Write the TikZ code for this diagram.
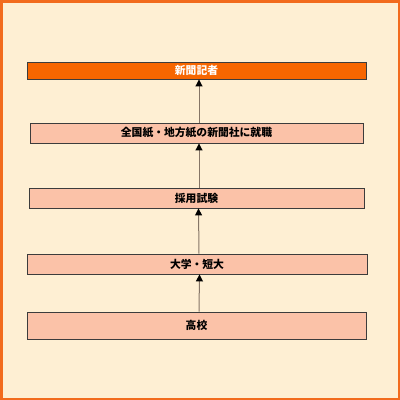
\documentclass[tikz,border=0pt]{standalone}
\usepackage{fontspec}
\newfontfamily\jpfont{Noto Sans CJK JP}
\usetikzlibrary{arrows.meta,positioning}
\definecolor{crBack}{HTML}{FEEFD3}
\definecolor{crFrame}{HTML}{F26B1D}
\definecolor{crGoal}{HTML}{F76600}
\definecolor{crStep}{HTML}{FBC2A8}
\definecolor{crEdge}{HTML}{3C3C3C}
\definecolor{crLine}{HTML}{857566}
\tikzset{
  stepbox/.style={
    draw=crEdge, fill=crStep, line width=0.9pt, minimum height=20pt,
    inner sep=0pt, font=\jpfont\bfseries\fontsize{10.8}{13}\selectfont
  },
  goalbox/.style={stepbox, fill=crGoal, text=white, minimum height=17pt},
  upflow/.style={-{Triangle[length=7pt,width=7pt,color=black]}, line width=1pt, crLine}
}
\begin{document}
\begin{tikzpicture}[x=1pt, y=-1pt]
  \fill[crBack] (0,0) rectangle (400,400);
  \draw[crFrame, line width=2.5pt] (1.25,1.25) rectangle (398.75,398.75);
  \useasboundingbox (0,0) rectangle (400,400);
  \node[goalbox, minimum width=339pt] (kisha) at (196.5,70.5) {新聞記者};
  \node[stepbox, minimum width=333pt] (shushoku) at (196.5,133) {全国紙・地方紙の新聞社に就職};
  \node[stepbox, minimum width=335pt] (shiken) at (196.5,198) {採用試験};
  \node[stepbox, minimum width=340pt] (daigaku) at (197,264) {大学・短大};
  \node[stepbox, minimum width=339pt, minimum height=27pt] (koko) at (196.5,325.5) {高校};
  \draw[upflow] ([xshift=2.5pt]shushoku.north) -- ([xshift=2.5pt]kisha.south);
  \draw[upflow] ([xshift=2.5pt]shiken.north) -- ([xshift=2.5pt]shushoku.south);
  \draw[upflow] ([xshift=2pt]daigaku.north) -- ([xshift=2pt]shiken.south);
  \draw[upflow] ([xshift=2.5pt]koko.north) -- ([xshift=2.5pt]daigaku.south);
\end{tikzpicture}
\end{document}
